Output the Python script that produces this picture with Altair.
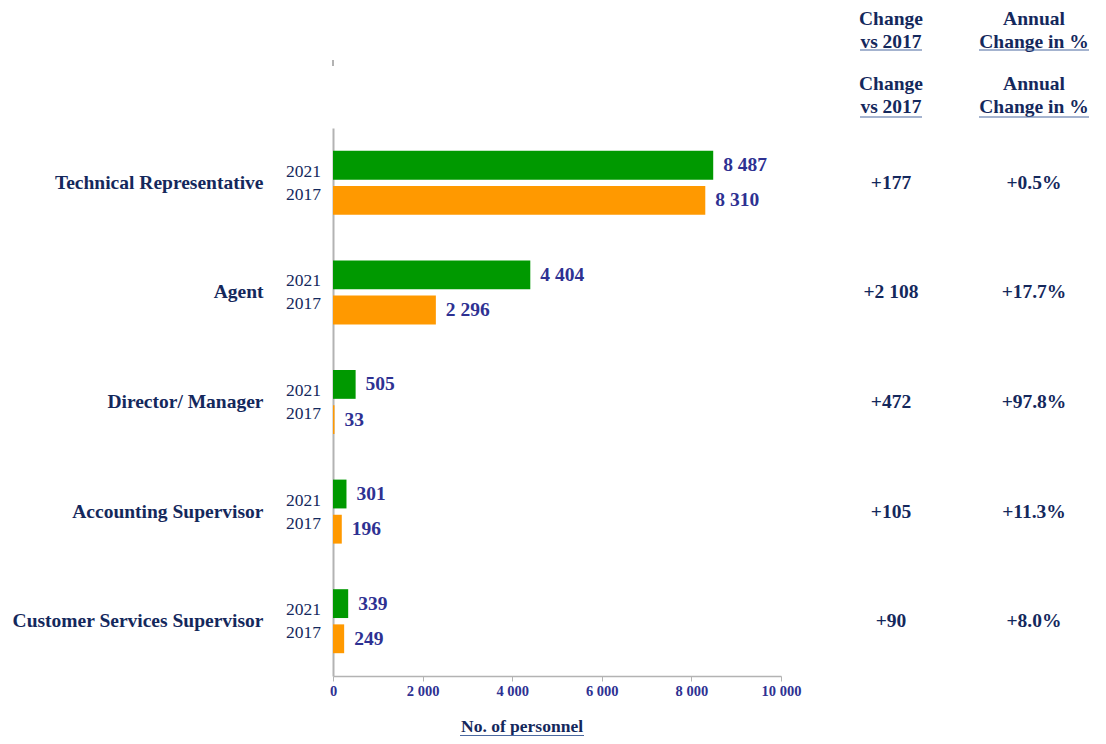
import altair as alt
import pandas as pd

categories = ["Technical Representative", "Agent", "Director/ Manager",
              "Accounting Supervisor", "Customer Services Supervisor"]
years = ["2021", "2017"]
values_2021 = [8487, 4404, 505, 301, 339]
values_2017 = [8310, 2296, 33, 196, 249]
change_vs_2017 = ["+177", "+2 108", "+472", "+105", "+90"]
annual_change = ["+0.5%", "+17.7%", "+97.8%", "+11.3%", "+8.0%"]
x_ticks = [0, 2000, 4000, 6000, 8000, 10000]

rows = []
for c, v21, v17 in zip(categories, values_2021, values_2017):
    for y, v in (("2021", v21), ("2017", v17)):
        rows.append({"cat": c, "year": y, "value": v,
                     "label": f"{v:,}".replace(",", " ")})
bars_df = pd.DataFrame(rows)
side_df = pd.DataFrame({"cat": categories, "chg": change_vs_2017, "ann": annual_change})

NAVY = "#14285c"
BLUE = "#2e3192"
SERIF = "Liberation Serif"
BIG = 19.5

y_enc = alt.Y("cat:N", sort=categories,
              scale=alt.Scale(paddingInner=0.416, paddingOuter=0.208),
              axis=alt.Axis(title=None, ticks=False, labelPadding=70, labelLimit=0,
                            labelFont=SERIF, labelFontSize=BIG, labelFontWeight="bold",
                            labelColor=NAVY, domainColor="#b3b3b3", domainWidth=2,
                            grid=False))
x_enc = alt.X("value:Q", scale=alt.Scale(domain=[0, 10000], nice=False),
              axis=alt.Axis(title=None, values=x_ticks, grid=False, labelFlush=False,
                            labelExpr="replace(format(datum.value, ','), ',', ' ')",
                            labelFont=SERIF, labelFontSize=14.5, labelFontWeight="bold",
                            labelColor=BLUE, domainColor="#b3b3b3", domainWidth=1.5,
                            tickColor="#b3b3b3", tickSize=5, labelPadding=3))
yoff = alt.YOffset("year:N", sort=years, scale=alt.Scale(paddingInner=0.18, paddingOuter=0))

base = alt.Chart(bars_df)
bars = base.mark_bar().encode(
    x=x_enc, y=y_enc, yOffset=yoff,
    color=alt.Color("year:N", scale=alt.Scale(domain=years, range=["#009900", "#ff9900"]),
                    legend=None))
vlabels = base.mark_text(align="left", baseline="middle", dx=10, font=SERIF,
                         fontSize=BIG, fontWeight="bold", color=BLUE).encode(
    x="value:Q", y=alt.Y("cat:N", sort=categories), yOffset=yoff, text="label:N")

yr21 = base.transform_filter("datum.year == '2021'").mark_text(
    align="right", baseline="middle", dy=-11, font=SERIF, fontSize=17.5, color=NAVY).encode(
    x=alt.value(-12), y=alt.Y("cat:N", sort=categories), text="year:N")
yr17 = base.transform_filter("datum.year == '2017'").mark_text(
    align="right", baseline="middle", dy=12, font=SERIF, fontSize=17.5, color=NAVY).encode(
    x=alt.value(-12), y=alt.Y("cat:N", sort=categories), text="year:N")

side = alt.Chart(side_df)
chg = side.mark_text(align="center", baseline="middle", font=SERIF, fontSize=BIG,
                     fontWeight="bold", color=NAVY).encode(
    x=alt.value(558), y=alt.Y("cat:N", sort=categories), text="chg:N")
ann = side.mark_text(align="center", baseline="middle", font=SERIF, fontSize=BIG,
                     fontWeight="bold", color=NAVY).encode(
    x=alt.value(701), y=alt.Y("cat:N", sort=categories), text="ann:N")

# headers (two identical rows) and their underlines
hdr_rows = []
for top in (-109, -44):
    hdr_rows += [
        {"t": "Change", "x": 558, "y": top},
        {"t": "vs 2017", "x": 558, "y": top + 23},
        {"t": "Annual", "x": 701, "y": top},
        {"t": "Change in %", "x": 701, "y": top + 23},
    ]
hdr_layers = []
for h in hdr_rows:
    hdr_layers.append(alt.Chart(pd.DataFrame({"t": [h["t"]]})).mark_text(
        align="center", baseline="middle", font=SERIF, fontSize=BIG, fontWeight="bold",
        color=NAVY).encode(x=alt.value(h["x"]), y=alt.value(h["y"]), text="t:N"))
line_layers = []
for ytop in (-78, -11):
    for x1, x2 in ((527, 589), (646, 756)):
        line_layers.append(alt.Chart(pd.DataFrame({"a": [0]})).mark_rule(
            color="#4a68a0", strokeWidth=1.2).encode(
            x=alt.value(x1), x2=alt.value(x2), y=alt.value(ytop)))

title = alt.Chart(pd.DataFrame({"t": ["No. of personnel"]})).mark_text(
    align="center", baseline="middle", font=SERIF, fontSize=17.5, fontWeight="bold",
    color=NAVY).encode(x=alt.value(189), y=alt.value(599), text="t:N")
title_line = alt.Chart(pd.DataFrame({"a": [0]})).mark_rule(
    color="#4a68a0", strokeWidth=1.2).encode(
    x=alt.value(127), x2=alt.value(251), y=alt.value(607.5))

stub = alt.Chart(pd.DataFrame({"a": [0]})).mark_rule(
    color="#b3b3b3", strokeWidth=2).encode(
    x=alt.value(0), y=alt.value(-68), y2=alt.value(-62))

chart = alt.layer(bars, vlabels, yr21, yr17, chg, ann, *hdr_layers, *line_layers,
                  title, title_line, stub).properties(
    width=448, height=548,
    autosize=alt.AutoSizeParams(type="none"),
    padding={"left": 325, "top": 120, "right": 317, "bottom": 60},
).configure(background="white").configure_view(stroke=None)

chart.save("out.html", embed_options={"renderer": "svg", "actions": False})
